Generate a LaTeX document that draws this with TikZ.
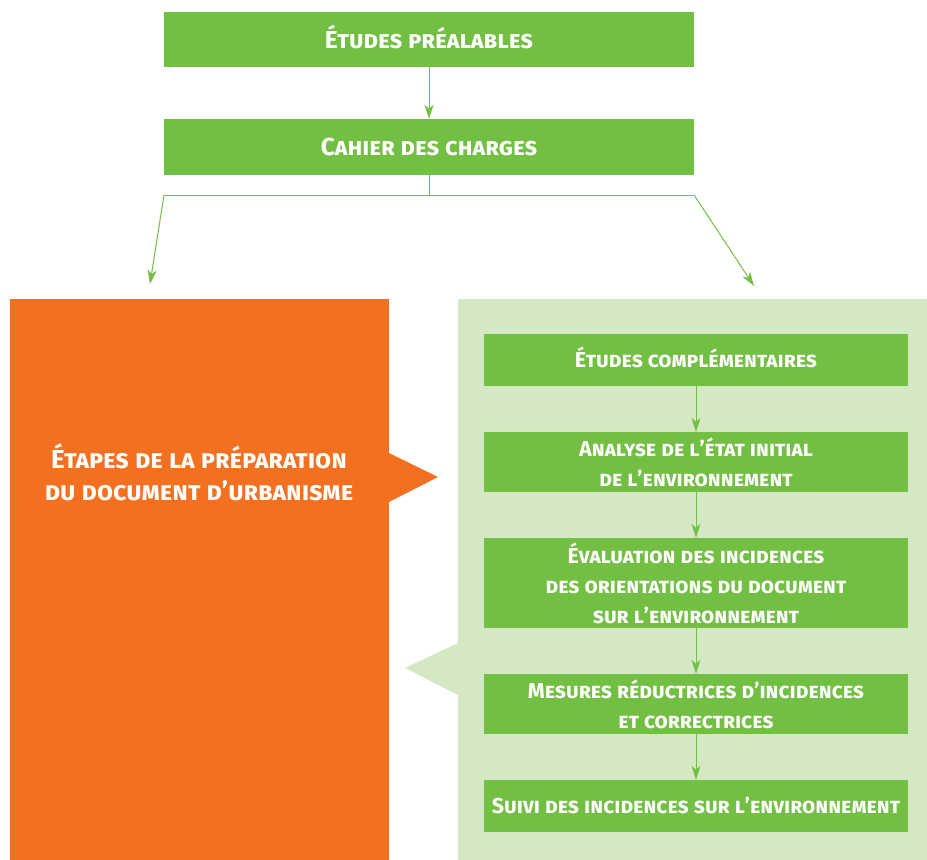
\documentclass[tikz,border=0pt]{standalone}
\usepackage{fontspec}
\setmainfont{Fira Sans}
\usetikzlibrary{arrows.meta,backgrounds}
\definecolor{boxgreen}{HTML}{72BF44}
\definecolor{panelgreen}{HTML}{D4E8C4}
\definecolor{preporange}{HTML}{F37021}
\newcommand{\topwidth}{530pt}
\newcommand{\stepwidth}{424pt}
\tikzset{
  greenbox/.style={fill=boxgreen, text=white, align=center, inner sep=0pt,
    font=\bfseries\scshape\fontsize{21.5}{30}\selectfont},
  topbox/.style={greenbox, minimum width=\topwidth, text height=17pt, text depth=0pt,
    font=\bfseries\scshape\fontsize{24.5}{30}\selectfont},
  oneline/.style={text height=14.8pt, text depth=0pt},
  flow/.style={draw=boxgreen, line width=1pt,
    -{Stealth[length=14pt,width=9pt,inset=4pt]}},
  joint/.style={draw=boxgreen, line width=1pt},
}

\begin{document}
\begin{tikzpicture}[x=1pt,y=-1pt]
\useasboundingbox (0,0) rectangle (927,860);
%top
\node[topbox, minimum height=55pt] (t1) at (429,39.5) {Études préalables};
\node[topbox, minimum height=56pt] (t2) at (429,147) {Cahier des charges};
\draw[flow] (t1) -- (t2);
\coordinate (split) at (429,195);
\coordinate (sl) at (164,195);
\coordinate (sr) at (694,195);
\coordinate (el) at (150,284);
\coordinate (er) at (754,286);
\draw[joint] (t2) -- (split);
\draw[joint] (sl) -- (sr);
\draw[flow] (sl) -- (el);
\draw[flow] (sr) -- (er);
%left
\node[fill=preporange, minimum width=379pt, minimum height=561pt, inner sep=0pt] (prep) at (199.5,579.5) {};
\fill[preporange] (389,453) -- (438,477) -- (389,502) -- cycle;
\node[text=white, align=center, font=\bfseries\scshape\fontsize{26}{32}\selectfont] (preptext) at (199,472) {Étapes de la préparation\\du document d’urbanisme};
%right
\node[fill=panelgreen, minimum width=469pt, minimum height=561pt, inner sep=0pt] (panel) at (692.5,579.5) {};
\fill[panelgreen] (458,643) -- (405,668) -- (458,695) -- cycle;
\node[greenbox, oneline, minimum width=\stepwidth, minimum height=52pt] (s1) at (696,360) {Études complémentaires};
\node[greenbox, minimum width=\stepwidth, minimum height=60pt] (s2) at (696,462) {Analyse de l’état initial\\de l’environnement};
\node[greenbox, minimum width=\stepwidth, minimum height=90pt] (s3) at (696,583) {Évaluation des incidences\\des orientations du document\\sur l’environnement};
\node[greenbox, minimum width=\stepwidth, minimum height=60pt] (s4) at (696,704) {Mesures réductrices d’incidences\\et correctrices};
\node[greenbox, oneline, minimum width=\stepwidth, minimum height=52pt] (s5) at (696,806) {Suivi des incidences sur l’environnement};
\draw[flow] (s1) -- (s2);
\draw[flow] (s2) -- (s3);
\draw[flow] (s3) -- (s4);
\draw[flow] (s4) -- (s5);
\end{tikzpicture}
\end{document}
